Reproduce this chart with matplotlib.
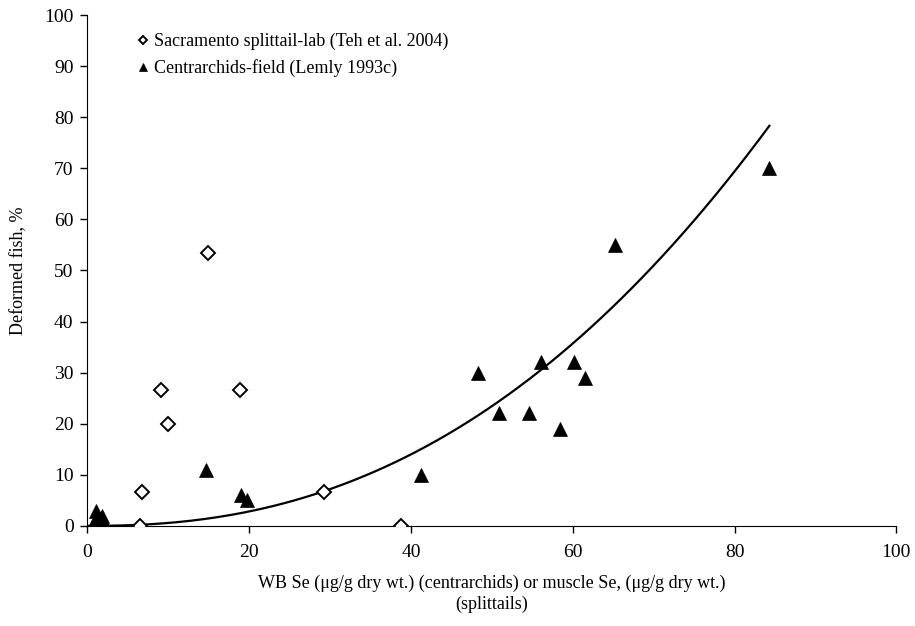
import numpy as np
import matplotlib
matplotlib.use('Agg')
from matplotlib import pyplot as plt

# Data
splittail_x = [6.5, 6.8, 9.1, 10.0, 14.9, 18.8, 29.3, 38.7]
splittail_y = [0, 6.67, 26.67, 20.0, 53.33, 26.67, 6.67, 0]

centr_x = [1.0, 1.1, 1.3, 1.0, 1.5, 1.8, 2.0, 2.2, 14.6, 19.0, 19.7, 41.2,
           48.3, 50.9, 54.6, 56.1, 58.4, 60.2, 61.5, 65.2, 84.3]
centr_y = [3, 1.5, 0.5, 0, 0, 2, 0.5, 0, 11, 6, 5, 10,
           30, 22, 22, 32, 19, 32, 29, 55, 70]

# power trendline for the centrarchids
trend_a = 0.002787
trend_b = 2.31

plt.rcParams['font.family'] = ['Liberation Serif', 'DejaVu Serif']
plt.rcParams['font.size'] = 13

fig = plt.figure(figsize=(9.15, 6.26), dpi=100)
ax = fig.add_axes([0.0956, 0.160, 0.884, 0.816])

xt = np.linspace(0, max(centr_x), 200)
ax.plot(xt, trend_a * xt ** trend_b, color='black', lw=1.6, zorder=1)

ax.plot(splittail_x, splittail_y, ls='none', marker='D', ms=7.6, mfc='white',
        mec='black', mew=1.4, label='Sacramento splittail-lab (Teh et al. 2004)', zorder=3)
ax.plot(centr_x, centr_y, ls='none', marker='^', ms=10.5, mfc='black',
        mec='black', mew=0.5, label='Centrarchids-field (Lemly 1993c)', zorder=2)

ax.set_xlim(0, 100)
ax.set_ylim(0, 100)
ax.set_xticks(range(0, 101, 20))
ax.set_yticks(range(0, 101, 10))
ax.spines['top'].set_visible(False)
ax.spines['right'].set_visible(False)
ax.tick_params(direction='out', length=5, width=1, color='black', labelsize=14)
ax.tick_params(axis='x', pad=8)
ax.tick_params(axis='y', pad=5)

ax.set_xlabel('WB Se (\u03bcg/g dry wt.) (centrarchids) or muscle Se, (\u03bcg/g dry wt.)\n(splittails)',
              linespacing=1.3, labelpad=10)
ax.set_ylabel('Deformed fish, %', labelpad=12)

ax.legend(loc='upper left', bbox_to_anchor=(0.042, 0.997), frameon=False,
          markerscale=0.6, handlelength=0.6, handletextpad=0.3, labelspacing=0.5)

fig.savefig('out.png', dpi=100)
